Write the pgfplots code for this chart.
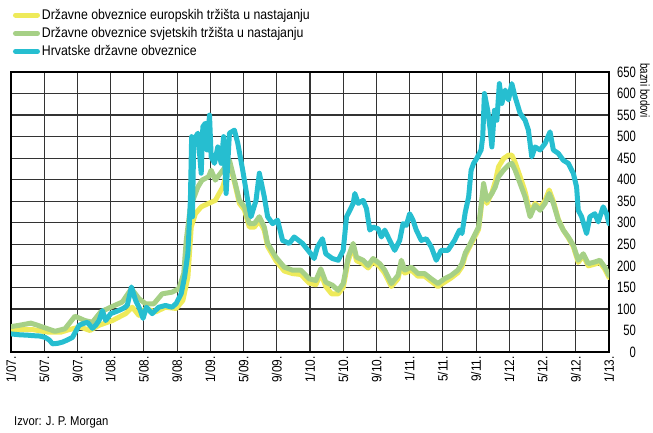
\documentclass[border=0pt]{standalone}
\usepackage{pgfplots}
\pgfplotsset{compat=1.18}
\usepackage{fontspec}
\setmainfont{Liberation Sans}[FakeStretch=0.88]
\newfontfamily\narrowfont{Liberation Sans}[FakeStretch=0.75]
\definecolor{cyanH}{RGB}{38,190,208}
\definecolor{greenS}{RGB}{166,208,134}
\definecolor{yellowE}{RGB}{238,234,90}
\begin{document}
\begin{tikzpicture}
\path[use as bounding box] (0bp,0bp) rectangle (653bp,433bp);
\begin{axis}[
  at={(11bp,81bp)}, anchor=south west,
  width=598bp, height=280bp, scale only axis,
  xmin=0, xmax=72, ymin=0, ymax=650,
  xtick={0,4,...,72},
  xticklabels={1/07.,5/07.,9/07.,1/08.,5/08.,9/08.,1/09.,5/09.,9/09.,1/10.,5/10.,9/10.,1/11.,5/11.,9/11.,1/12.,5/12.,9/12.,1/13.},
  ytick={0,50,...,650},
  yticklabel pos=right,
  grid=major,
  major grid style={black!80, line width=1.2bp},
  axis line style={black, line width=1.5bp},
  major tick length=0pt,
  /pgf/number format/assume math mode=true,
  xticklabel style={yshift=-4bp, rotate=90, anchor=east, inner sep=0pt, font=\fontsize{13.5bp}{15bp}\selectfont},
  yticklabel style={anchor=east, inner sep=0pt, xshift=27bp, font=\narrowfont\fontsize{15bp}{17bp}\selectfont},
  legend style={at={(axis description cs:0.003,1.232)}, anchor=north west, draw=none, fill=none,
    font=\fontsize{14bp}{16bp}\selectfont, row sep=2.5bp, inner sep=0pt},
  legend cell align=left,
  legend image code/.code={\draw[#1] (0bp,0bp) -- (22bp,0bp);},
  every axis plot/.append style={line width=5bp, line join=round, line cap=round, no markers},
]
\addplot[yellowE] coordinates {
(0,50) (1,52) (2.6,52) (4.5,46) (6,46) (7,52) (8.3,58) (9.5,50) (10.6,62) (12.2,73)
(13.8,89) (14.6,104) (15.4,85) (16.2,101) (17.4,93) (18.6,104) (19.9,101) (20.7,120)
(21.3,174) (21.7,290) (22.2,321) (22.9,337) (23.8,345) (24.6,352) (25.5,383) (26.3,438)
(26.9,395) (27.5,345) (28.1,330) (28.7,290) (29.3,290) (29.9,305) (30.5,282) (30.9,245)
(31.9,212) (32.9,188) (33.9,182) (34.9,180) (35.9,160) (36.7,156) (37.3,182) (37.9,152)
(38.6,135) (39.4,135) (40,150) (40.6,212) (41.2,245) (41.6,212) (42.4,205) (43,195)
(43.6,210) (44.4,198) (45,183) (45.8,152) (46.6,170) (47,205) (47.4,183) (48.2,190)
(49,176) (49.8,176) (50.6,164) (51.4,152) (52.2,162) (53,172) (53.8,184) (54.3,198)
(54.7,224) (55.1,240) (55.7,262) (56.3,285) (56.9,380) (57.3,345) (57.9,370) (58.3,395)
(58.7,430) (59.3,449) (59.9,457) (60.3,457) (60.7,440) (61.3,407) (61.9,372) (62.5,322)
(63.1,345) (63.7,335) (64.3,352) (64.8,376) (65.3,350) (65.9,308) (66.5,283) (67.1,265)
(67.7,245) (68.3,208) (68.9,224) (69.5,200) (70.3,204) (70.9,208) (71.5,192) (72,173)
};
\addlegendentry{Državne obveznice europskih tržišta u nastajanju}
\addplot[greenS] coordinates {
(0,59) (1,62) (2.4,67) (3.2,62) (4.1,56) (5.3,48) (6.5,54) (7.7,83) (8.9,73) (9.8,69)
(10.8,93) (12,104) (13.4,116) (14.5,147) (15.4,124) (16.2,112) (17.2,112) (18.2,135)
(19.4,139) (20.2,147) (20.8,182) (21.1,259) (21.6,337) (22.5,383) (23,399) (23.8,407)
(24.1,422) (24.6,399) (25.5,422) (26.3,445) (26.9,399) (27.5,352) (28.1,337) (28.7,298)
(29.3,298) (29.9,314) (30.5,290) (30.9,252) (31.9,220) (32.9,197) (33.9,190) (34.9,190)
(35.9,170) (36.7,166) (37.3,193) (37.9,162) (38.7,155) (39.4,143) (40,159) (40.6,220)
(41.2,252) (41.6,220) (42.4,213) (43,201) (43.6,217) (44.4,205) (45,190) (45.8,159)
(46.6,178) (47,213) (47.4,190) (48.2,197) (49,182) (49.8,182) (50.6,170) (51.4,159)
(52.2,170) (53,178) (53.8,190) (54.3,205) (54.7,230) (55.1,244) (55.7,267) (56.3,290)
(56.9,391) (57.3,352) (57.9,368) (58.3,383) (58.7,407) (59.3,422) (59.9,434) (60.3,438)
(60.7,422) (61.3,391) (61.9,360) (62.5,314) (63.1,341) (63.7,329) (64.3,345) (64.8,368)
(65.3,345) (65.9,306) (66.5,283) (67.1,267) (67.7,248) (68.3,213) (68.9,228) (69.5,205)
(70.3,209) (70.9,213) (71.5,197) (72,178)
};
\addlegendentry{Državne obveznice svjetskih tržišta u nastajanju}
\addplot[cyanH] coordinates {
(0,42) (1,40) (2,39) (2.6,38) (3.5,37) (4.1,34) (4.6,28) (5,19) (5.6,20) (6.2,23)
(6.8,28) (7.4,34) (8.2,62) (8.7,66) (9.2,69) (9.8,55) (10.2,62) (10.6,73) (11,96)
(11.4,73) (12,89) (12.8,95) (13.5,101) (14,108) (14.5,151) (15,120) (15.5,100) (15.9,78)
(16.3,104) (17,89) (17.8,104) (18.6,108) (19.4,104) (19.9,113) (20.5,136) (20.9,174)
(21.3,229) (21.6,352) (21.75,500) (21.85,314) (22,492) (22.5,508) (22.9,415) (23.1,523)
(23.4,531) (23.6,469) (23.9,550) (24.1,453) (24.5,438) (24.9,476) (25.3,438) (25.6,500)
(25.9,368) (26.3,508) (26.9,515) (27.3,485) (27.9,422) (28.5,352) (28.9,314) (29.5,352)
(29.9,415) (30.5,360) (30.9,314) (31.5,298) (32.1,306) (32.7,259) (33.5,252) (34.1,267)
(35.1,252) (36.1,228) (36.5,217) (36.9,244) (37.5,263) (37.9,228) (38.7,217) (39.4,213)
(40,236) (40.4,314) (40.8,329) (41.2,345) (41.4,368) (41.8,345) (42.4,352) (42.8,333)
(43.2,283) (43.6,290) (44.2,286) (44.6,267) (45,283) (45.6,259) (46.2,236) (46.8,259)
(47.2,298) (47.6,294) (48,321) (48.4,306) (48.8,283) (49.4,259) (50,263) (50.6,244)
(51.2,213) (51.8,236) (52.6,236) (53.4,259) (54,283) (54.3,275) (54.7,325) (55.1,360)
(55.4,422) (55.7,438) (56.1,450) (56.6,469) (56.8,500) (57,600) (57.4,561) (57.7,515)
(57.9,476) (58.2,561) (58.5,538) (58.8,623) (59.1,577) (59.5,608) (59.9,585) (60.3,623)
(60.7,592) (61.3,554) (61.9,538) (62.3,515) (62.7,453) (63.1,476) (63.7,469) (64.3,484)
(64.9,511) (65.3,469) (65.9,461) (66.5,445) (67.1,438) (67.7,415) (68.1,383) (68.3,329)
(68.7,314) (69.3,275) (69.7,314) (70.3,321) (70.7,302) (71.3,337) (71.7,321) (72,298)
};
\addlegendentry{Hrvatske državne obveznice}
\end{axis}
\node[rotate=-90, anchor=west, inner sep=0pt, font=\narrowfont\fontsize{13bp}{15bp}\selectfont] at (645bp,370bp) {bazni bodovi};
\node[anchor=west, inner sep=0pt, font=\fontsize{12.8bp}{15bp}\selectfont] at (14bp,11bp) {Izvor: J. P. Morgan};
\end{tikzpicture}
\end{document}
